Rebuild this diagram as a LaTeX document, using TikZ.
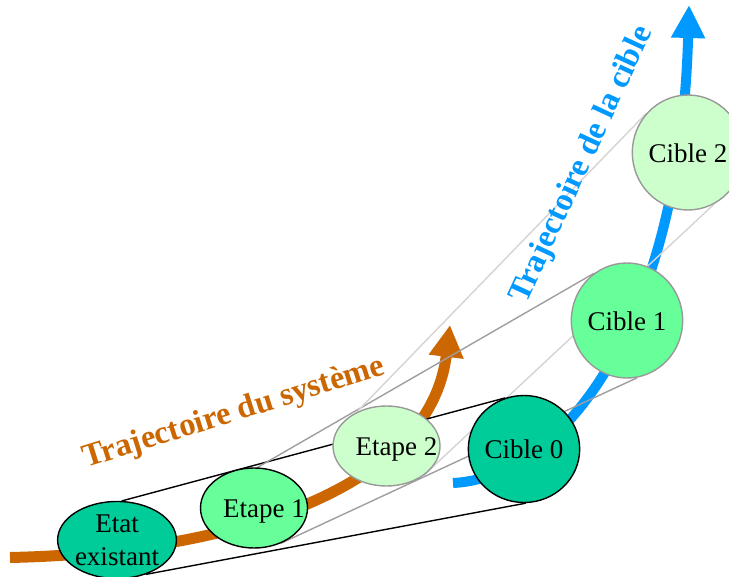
\documentclass[tikz,border=0pt]{standalone}
\usepackage{fontspec}
\setmainfont{Liberation Serif}
\usetikzlibrary{arrows.meta,shapes.geometric,backgrounds}

\definecolor{sysorange}{RGB}{204,102,0}
\definecolor{cibleblue}{RGB}{0,153,255}
\definecolor{deepgreen}{RGB}{0,204,153}
\definecolor{midgreen}{RGB}{102,255,153}
\definecolor{palegreen}{RGB}{204,255,204}

\begin{document}
\begin{tikzpicture}[x=1pt, y=-1pt,
	stage/.style={ ellipse, draw, line width=1.4pt, inner sep=0pt, minimum width=107pt, minimum height=80pt },
	target/.style={ ellipse, draw, line width=1.4pt, inner sep=0pt, minimum width=104pt, minimum height=115pt },
	txt/.style={ font=\fontsize{27}{33}\selectfont },
	oneline/.style={ text height=20pt, text depth=0pt },
	traj/.style={ line width=11pt, -{Triangle[length=32pt,width=33pt]} },
	link/.style={ line width=1.4pt },
	heading/.style={ font=\fontsize{32.5}{36}\selectfont\bfseries, inner sep=0pt, anchor=base west }
]
\useasboundingbox (0,0) rectangle (729,577);

\node at (117,540) (etat) [stage, fill=deepgreen, minimum height=77pt, txt, align=center] {Etat\\existant};
\node at (254,508) (etape1) [stage, fill=midgreen, label={[txt,oneline,xshift=10pt]center:Etape 1}] {};
\node at (386.5,446) (etape2) [stage, draw=black!40, fill=palegreen, label={[txt,oneline,xshift=10pt]center:Etape 2}] {};

\node at (524,449) (cible0) [target, fill=deepgreen, minimum width=108pt, minimum height=107pt, txt, oneline] {Cible 0};
\node at (627,320.5) (cible1) [target, draw=black!40, fill=midgreen, txt, oneline] {Cible 1};
\node at (688,152.5) (cible2) [target, draw=black!40, fill=palegreen, txt, oneline] {Cible 2};

\coordinate (sysstart) at (10,557.5);
\coordinate (sysend) at (450,325);
\coordinate (ciblestart) at (453,483);
\coordinate (cibleend) at (689,5);

\begin{pgfonlayer}{background}
\draw[traj, sysorange] (sysstart) .. controls (230,553) and (430,490) .. (sysend);
\draw[traj, cibleblue, line width=10pt, -{Triangle[length=33pt,width=32pt]}] (ciblestart) .. controls (560,478) and (680,330) .. (cibleend);

\draw[link] (etat.83) to (cible0.110);
\draw[link] (etat.-50) to (cible0.-88);
\draw[link, black!38] (etape1.85) to (cible1.125);
\draw[link, black!38] (etape1.-53) to (cible1.-80);
\draw[link, black!17] (etape2.131) to (cible2.137);
\draw[link, black!17] (etape2.-40) to (cible2.-63);
\end{pgfonlayer}

\node at (86,468) (systitle) [heading, sysorange, rotate=17.4] {Trajectoire du système};
\node at (526,305) (cibletitle) [heading, cibleblue, rotate=65.2] {Trajectoire de la cible};

\end{tikzpicture}
\end{document}
